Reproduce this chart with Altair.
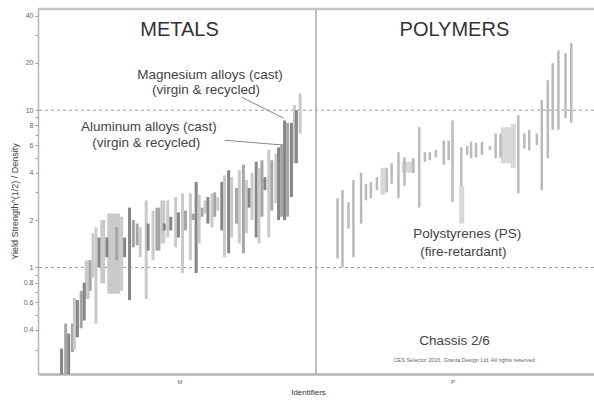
import altair as alt
import pandas as pd

# ---------------- data ----------------
metal_id = [6.8, 8.3, 9.4, 10.8, 11.5, 12.6, 14.0, 15.1, 16.2, 17.3, 18.3, 19.4, 20.5, 21.9, 23.4,
            25.9, 27.0, 28.8, 29.9, 31.7, 33.1, 34.5, 35.6, 37.8, 38.5, 40.3, 42.1, 43.9, 44.4, 45.7,
            46.8, 48.6, 49.6, 51.1, 52.2, 54.0, 55.0, 56.1, 57.2, 58.3, 59.4, 60.4, 61.9, 62.9, 64.0,
            65.5, 66.5, 68.0, 69.1, 70.9, 71.9, 73.4, 74.5, 75.5, 76.6, 78.1, 79.1, 80.2, 81.3, 82.7,
            83.8, 85.3, 86.3, 87.4, 88.5, 89.6, 91.0, 92.1, 92.8, 94.2]
metal_lo = [0.21, 0.21, 0.21, 0.29, 0.30, 0.36, 0.41, 0.46, 0.63, 0.71, 0.86, 0.44, 1.0, 0.79, 1.16,
            0.68, 1.11, 0.71, 1.16, 0.62, 1.34, 1.38, 1.16, 0.63, 1.28, 1.11, 1.28, 1.42, 1.72, 1.55,
            1.72, 1.34, 1.55, 0.92, 1.72, 1.11, 2.0, 0.92, 1.42, 2.1, 2.2, 1.9, 1.8, 2.1, 2.3,
            1.72, 1.16, 1.23, 1.55, 1.9, 1.42, 1.23, 1.65, 2.4, 2.0, 1.55, 1.42, 2.1, 3.1, 1.55,
            2.3, 2.55, 2.0, 2.1, 2.0, 2.1, 2.8, 4.6, 4.6, 7.1]
metal_hi = [0.305, 0.44, 0.38, 0.44, 0.64, 0.62, 0.71, 0.80, 1.11, 1.11, 1.65, 1.8, 1.55, 2.0, 1.55,
            2.2, 1.8, 2.1, 1.55, 2.4, 2.0, 1.9, 1.8, 2.67, 1.9, 2.3, 2.4, 2.67, 1.9, 2.67,
            2.1, 2.8, 2.24, 2.96, 2.3, 2.96, 2.2, 3.5, 2.9, 2.4, 2.67, 2.8, 2.96, 3.0, 2.8,
            3.5, 3.85, 4.15, 3.75, 3.2, 4.15, 4.5, 3.6, 3.2, 4.0, 4.7, 4.3, 4.8, 3.75, 5.6,
            4.8, 5.3, 5.8, 6.0, 8.6, 8.3, 8.3, 10.8, 10.0, 12.8]
metal_tone = ["d", "m", "d", "m", "l", "d", "m", "d", "l", "m", "l", "l", "d", "l", "d",
              "l", "m", "l", "d", "d", "m", "m", "l", "l", "d", "l", "m", "l", "d", "l",
              "d", "l", "d", "l", "m", "l", "m", "d", "l", "m", "l", "d", "l", "m", "l",
              "d", "l", "d", "l", "m", "l", "m", "l", "d", "l", "d", "l", "m", "d", "l",
              "m", "l", "d", "m", "d", "m", "d", "l", "d", "l"]
metal_form = ["n"] * 8 + ["m", "n", "n", "n", "n", "m", "n", "w"] + ["n"] * 10 + ["m", "m"] + ["n"] * 42

poly_id = [107.9, 109.7, 111.9, 113.7, 116.5, 118.3, 120.1, 122.3, 124.5, 125.9, 127.7, 130.2, 132.4,
           133.8, 135.6, 137.8, 139.9, 141.7, 143.9, 146.8, 148.6, 150.0, 153.2, 153.4, 155.4, 156.8,
           158.6, 160.8, 163.7, 165.8, 167.6, 170.1, 172.3, 174.1, 176.3, 178.1, 180.9, 182.7, 184.9,
           186.7, 188.8, 191.4, 193.5]
poly_lo = [1.14, 1.0, 1.77, 1.16, 1.9, 2.67, 2.75, 3.1, 2.9, 3.0, 3.4, 2.75, 3.3,
           4.0, 4.0, 2.4, 4.7, 4.8, 5.0, 4.5, 4.8, 2.6, 3.3, 1.9, 5.2, 4.95,
           5.0, 5.2, 5.6, 4.95, 5.0, 4.6, 4.3, 2.96, 5.7, 5.55, 6.0, 3.1, 4.95,
           7.5, 7.5, 8.9, 8.3]
poly_hi = [2.75, 3.1, 2.6, 3.6, 4.0, 3.4, 3.5, 3.75, 4.3, 4.3, 4.6, 5.4, 5.0,
           4.7, 4.95, 7.8, 5.4, 5.4, 5.6, 6.4, 6.4, 8.6, 5.8, 3.3, 5.9, 6.3,
           6.2, 6.3, 5.9, 7.1, 7.1, 7.8, 8.2, 9.3, 7.1, 7.5, 7.1, 11.6, 15.5,
           19.9, 24.0, 23.0, 26.7]
poly_tone = ["p"] * 8 + ["q"] + ["p"] * 4 + ["q"] + ["p"] * 9 + ["q"] + ["p"] * 7 + ["q", "q"] + ["p"] * 10
poly_form = ["t"] * 8 + ["m"] + ["t"] * 4 + ["w"] + ["t"] * 9 + ["m"] + ["t"] * 7 + ["w", "m"] + ["t"] * 10

y_ticks = [0.3, 0.4, 0.5, 0.6, 0.7, 0.8, 0.9, 1, 2, 3, 4, 5, 6, 7, 8, 9, 10, 20, 30, 40]
y_labels = [0.4, 0.6, 0.8, 1, 2, 4, 6, 8, 10, 20, 40]
x_label_at = [50, 150]
x_label_text = ["M", "P"]

# annotation texts (data coordinates)
big_text = ["METALS", "POLYMERS"]
big_x = [50, 150.7]
big_y = [32.3, 32.3]
note_text = ["Magnesium alloys (cast)", "(virgin & recycled)", "Aluminum alloys (cast)",
             "(virgin & recycled)", "Polystyrenes (PS)", "(fire-retardant)", "Chassis 2/6"]
note_x = [61.2, 59.7, 38.8, 37.8, 155.4, 154.0, 150.7]
note_y = [16.7, 13.4, 7.8, 6.2, 1.62, 1.26, 0.338]
small_text = ["CES Selector 2016, Granta Design Ltd. All rights reserved"]
small_x = [154.3]
small_y = [0.256]
conn_x = [72.7, 66.5]
conn_x2 = [88.1, 88.1]
conn_y = [12.1, 6.44]
conn_y2 = [8.9, 6.0]

# ---------------- tables ----------------
bars = pd.concat([
    pd.DataFrame({"id": metal_id, "lo": metal_lo, "hi": metal_hi, "tone": metal_tone, "form": metal_form}),
    pd.DataFrame({"id": poly_id, "lo": poly_lo, "hi": poly_hi, "tone": poly_tone, "form": poly_form}),
], ignore_index=True)

x_scale = alt.Scale(domain=[0, 200], nice=False, zero=False)
y_scale = alt.Scale(type="log", domain=[0.21, 44], nice=False)

lbl_map = "{" + ",".join(f"'{v}':'{t}'" for v, t in zip(x_label_at, x_label_text)) + "}"
x_axis = alt.Axis(values=x_label_at, labelExpr=f"{lbl_map}[datum.value] || ''", title="Identifiers",
                  ticks=False, grid=False, domainColor="#b5b5b5", domainWidth=2.5, labelFontSize=6,
                  labelColor="#666666", labelPadding=4, titleFontSize=8, titleFontWeight="normal",
                  titleColor="#333333", titlePadding=4, titleX=270, labelFont="Liberation Sans",
                  titleFont="Liberation Sans")
ylab = "[" + ",".join(str(v) for v in y_labels) + "]"
y_axis = alt.Axis(values=y_ticks, labelExpr=f"indexof({ylab}, datum.value) >= 0 ? datum.label : ''",
                  format="~g", title="Yield Strength^(1/2) / Density", tickSize=3, tickColor="#999999",
                  grid=False, domainColor="#b5b5b5", domainWidth=1.5, labelFontSize=7, labelColor="#666666",
                  labelPadding=2, titleFontSize=9, titleFontWeight="normal", titleColor="#444444",
                  titlePadding=4, titleY=192, labelFont="Liberation Sans", titleFont="Liberation Sans")


def X(f):
    return alt.X(f, scale=x_scale, axis=x_axis)


def Y(f):
    return alt.Y(f, scale=y_scale, axis=y_axis)


tone_scale = alt.Scale(domain=["d", "m", "l", "p", "q"],
                       range=["#868686", "#a6a6a6", "#cacaca", "#bababa", "#d8d8d8"])

refs = alt.Chart(pd.DataFrame({"v": [1, 10]})).mark_rule(
    color="#9a9a9a", strokeDash=[3, 3], strokeWidth=1).encode(y=Y("v:Q"))
top = alt.Chart(pd.DataFrame({"v": [44]})).mark_rule(color="#c4c4c4", strokeWidth=2.5).encode(y=Y("v:Q"))
divider = alt.Chart(pd.DataFrame({"v": [100]})).mark_rule(color="#a8a8a8", strokeWidth=1.5).encode(x=X("v:Q"))

bar_layers = []
for form, w in [("w", 13), ("m", 5), ("n", 3), ("t", 2.5)]:
    bar_layers.append(
        alt.Chart(bars).transform_filter(alt.datum.form == form).mark_bar(size=w, clip=True).encode(
            x=X("id:Q"), y=Y("lo:Q"), y2="hi:Q",
            color=alt.Color("tone:N", scale=tone_scale, legend=None)))

conns = alt.Chart(pd.DataFrame({"x": conn_x, "x2": conn_x2, "y": conn_y, "y2": conn_y2})).mark_rule(
    color="#888888", strokeWidth=1).encode(x=X("x:Q"), x2="x2:Q", y=Y("y:Q"), y2="y2:Q")

big = alt.Chart(pd.DataFrame({"x": big_x, "y": big_y, "t": big_text})).mark_text(
    fontSize=20, font="Liberation Sans", color="#333333", baseline="middle").encode(
    x=X("x:Q"), y=Y("y:Q"), text="t:N")
notes = alt.Chart(pd.DataFrame({"x": note_x, "y": note_y, "t": note_text})).mark_text(
    fontSize=13.5, font="Liberation Sans", color="#444444", baseline="middle").encode(
    x=X("x:Q"), y=Y("y:Q"), text="t:N")
small = alt.Chart(pd.DataFrame({"x": small_x, "y": small_y, "t": small_text})).mark_text(
    fontSize=5.5, font="Liberation Sans", color="#666666", baseline="middle").encode(
    x=X("x:Q"), y=Y("y:Q"), text="t:N")

chart = alt.layer(refs, divider, *bar_layers, conns, top, big, notes, small).properties(
    width=556, height=365,
    autosize=alt.AutoSizeParams(type="none"),
    padding={"left": 38, "top": 9, "right": 0, "bottom": 27},
    background="white",
).configure_view(stroke=None)

chart.save("out.html", embed_options={"renderer": "svg", "actions": False})
